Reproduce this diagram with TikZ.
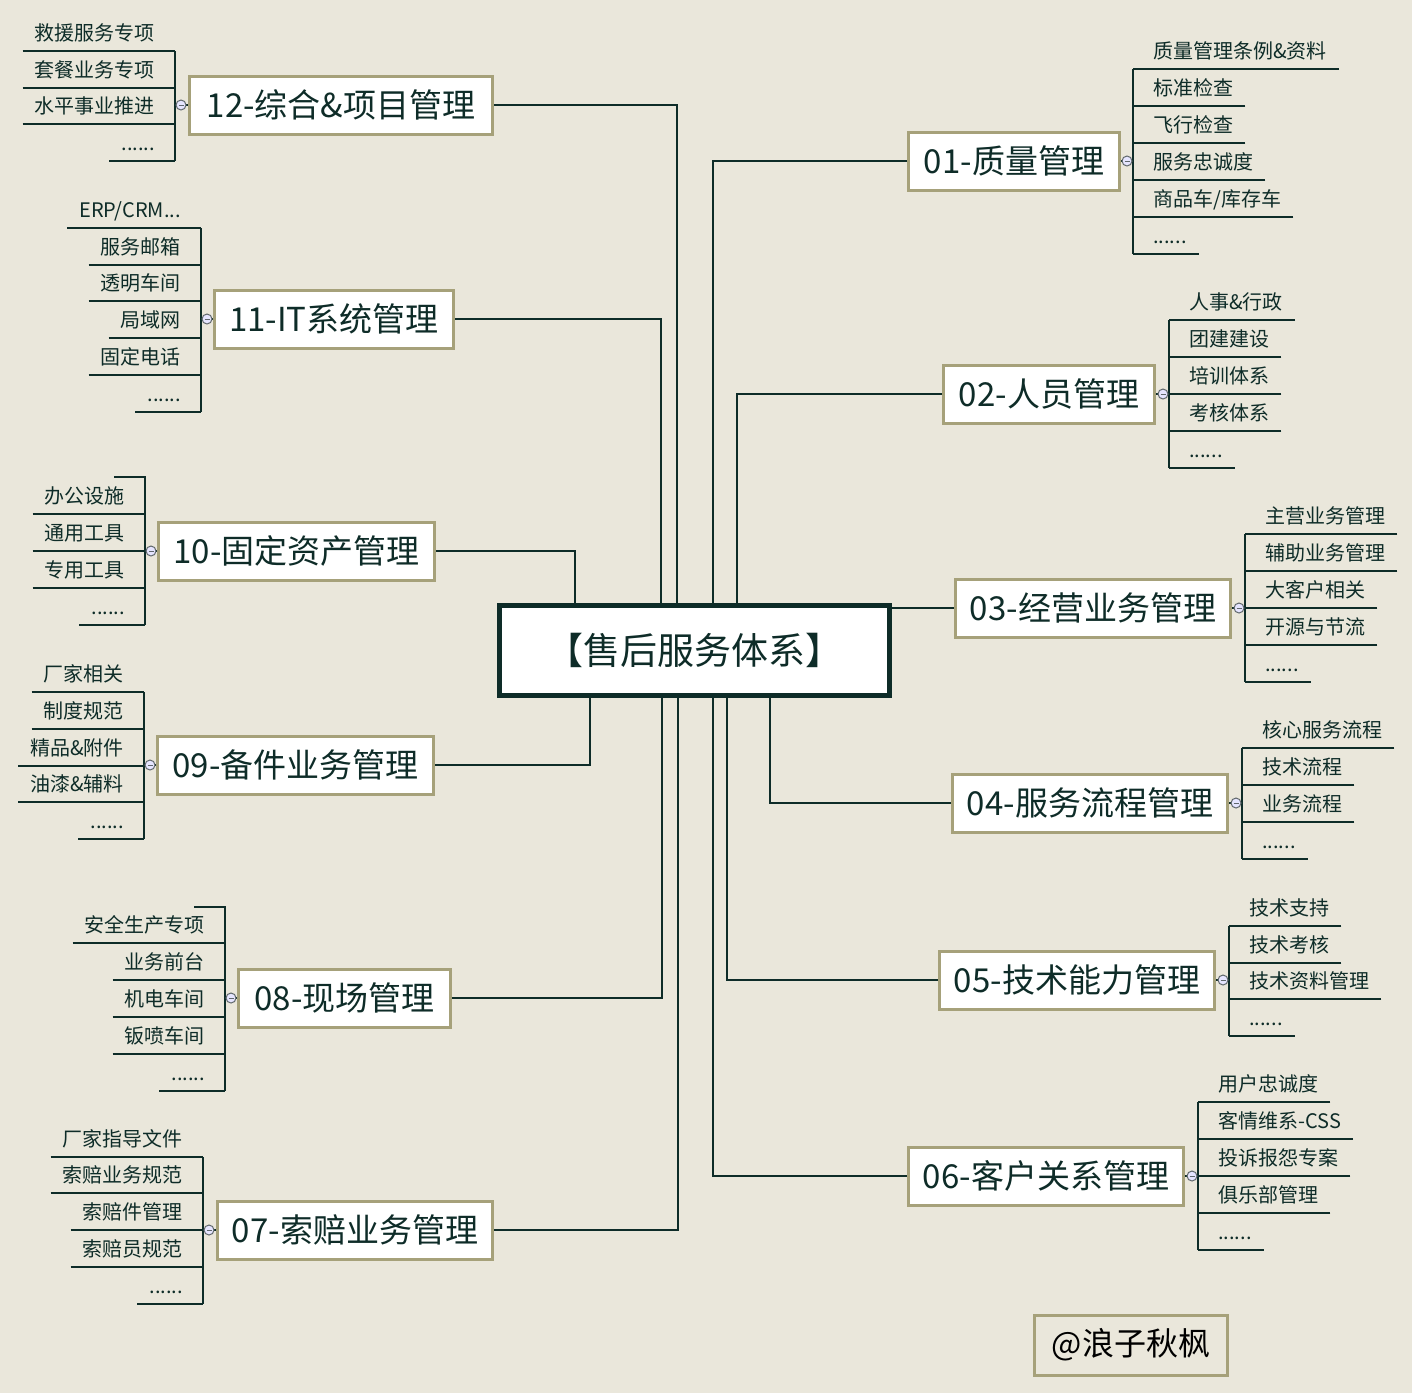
\documentclass[tikz,border=0pt]{standalone}
\usepackage{fontspec}
\newfontfamily\cjk{Noto Sans CJK SC}
\definecolor{paper}{RGB}{234,231,219}
\definecolor{ink}{RGB}{14,44,40}
\definecolor{olive}{RGB}{166,161,122}
\definecolor{foldgray}{RGB}{96,104,108}
\newcommand{\threedots}{...}
\newcommand{\moreitems}{\threedots\threedots}

\begin{document}
\begin{tikzpicture}[x=1pt, y=-1pt,
        hub/.style={draw=ink, line width=5pt, fill=white, minimum width=390pt, minimum height=90pt, text=ink, font=\cjk\fontsize{37}{42}\selectfont},
        topic/.style={draw=olive, line width=3pt, fill=white, minimum height=58pt, text=ink, font=\cjk\fontsize{33}{38}\selectfont},
        leafL/.style={anchor=south east, inner xsep=12pt, inner ysep=10pt, text height=15pt, text depth=0pt, text=ink, font=\cjk\fontsize{20}{24}\selectfont},
        leafR/.style={leafL, anchor=south west},
        link/.style={draw=ink, line width=2pt},
        twig/.style={draw=ink, line width=1.3pt},
        fold/.style={circle, draw=foldgray, fill=white!90!blue, line width=1pt, minimum size=10pt, inner sep=0pt,
            path picture={\draw[foldgray, line width=.9pt] ([xshift=-2.5pt]path picture bounding box.center) -- ([xshift=2.5pt]path picture bounding box.center);}}]
        \useasboundingbox (0,0) rectangle (1412,1393);
        \fill[paper] (0,0) rectangle (1412,1393);

        \node[hub] (hub) at (694.5,650.5) {【售后服务体系】};

        \node[topic, minimum width=303pt] (b12) at (341,105) {12-综合\&项目管理};
        \node[topic, minimum width=239pt] (b11) at (334,319) {11-IT系统管理};
        \node[topic, minimum width=276pt] (b10) at (296.5,551) {10-固定资产管理};
        \node[topic, minimum width=276pt] (b09) at (295.5,765) {09-备件业务管理};
        \node[topic, minimum width=212pt] (b08) at (344.5,998) {08-现场管理};
        \node[topic, minimum width=275pt] (b07) at (355,1230) {07-索赔业务管理};
        \node[topic, minimum width=211pt] (b01) at (1014,161) {01-质量管理};
        \node[topic, minimum width=211pt] (b02) at (1049,394) {02-人员管理};
        \node[topic, minimum width=275pt] (b03) at (1093,608) {03-经营业务管理};
        \node[topic, minimum width=275pt] (b04) at (1090,803) {04-服务流程管理};
        \node[topic, minimum width=275pt] (b05) at (1077,980) {05-技术能力管理};
        \node[topic, minimum width=275pt] (b06) at (1046,1176) {06-客户关系管理};

        \node[draw=olive, line width=3pt, minimum width=193pt, minimum height=60pt, font=\cjk\fontsize{32}{37}\selectfont] (sign) at (1131,1345) {@浪子秋枫};

        \begin{scope}[link]
            \draw (b12.east) -| ([xshift=180pt]hub.north west);
            \draw (b11.east) -| ([xshift=164pt]hub.north west);
            \draw (b10.east) -| ([xshift=78pt]hub.north west);
            \draw (b01.west) -| ([xshift=216pt]hub.north west);
            \draw (b02.west) -| ([xshift=240pt]hub.north west);
            \draw (b03.west -| hub.east) -- (b03.west);
            \draw (b09.east) -| ([xshift=93pt]hub.south west);
            \draw (b08.east) -| ([xshift=165pt]hub.south west);
            \draw (b07.east) -| ([xshift=181pt]hub.south west);
            \draw (b06.west) -| ([xshift=216pt]hub.south west);
            \draw (b05.west) -| ([xshift=230pt]hub.south west);
            \draw (b04.west) -| ([xshift=273pt]hub.south west);
        \end{scope}

        \coordinate (k12) at (175,105);
        \foreach \t/\y [count=\i] in {救援服务专项/51,套餐业务专项/88,水平事业推进/124,\moreitems/161} {
            \node[leafL] (g12-\i) at (167,\y) {\t};
            \draw[twig] (g12-\i.south west) -- (g12-\i.south west -| k12);
        }
        \draw[twig] (g12-1.south west -| k12) -- (g12-4.south west -| k12);
        \draw[twig] (b12.west) -- (k12);
        \node[fold] (f12) at ([xshift=6pt]k12) {};

        \coordinate (k11) at (201,319);
        \foreach \t/\y [count=\i] in {{ERP/CRM\threedots}/228,服务邮箱/265,透明车间/301,局域网/338,固定电话/375,\moreitems/412} {
            \node[leafL] (g11-\i) at (193,\y) {\t};
            \draw[twig] (g11-\i.south west) -- (g11-\i.south west -| k11);
        }
        \draw[twig] (g11-1.south west -| k11) -- (g11-6.south west -| k11);
        \draw[twig] (b11.west) -- (k11);
        \node[fold] (f11) at ([xshift=6pt]k11) {};

        \coordinate (k10) at (145,551);
        \coordinate (t10) at (114,477);
        \foreach \t/\y [count=\i] in {办公设施/514,通用工具/551,专用工具/588,\moreitems/625} {
            \node[leafL] (g10-\i) at (137,\y) {\t};
            \draw[twig] (g10-\i.south west) -- (g10-\i.south west -| k10);
        }
        \draw[twig] (t10) -- (t10 -| k10) -- (g10-4.south west -| k10);
        \draw[twig] (b10.west) -- (k10);
        \node[fold] (f10) at ([xshift=6pt]k10) {};

        \coordinate (k09) at (144,765);
        \foreach \t/\y [count=\i] in {厂家相关/692,制度规范/729,精品\&附件/766,油漆\&辅料/802,\moreitems/839} {
            \node[leafL] (g09-\i) at (136,\y) {\t};
            \draw[twig] (g09-\i.south west) -- (g09-\i.south west -| k09);
        }
        \draw[twig] (g09-1.south west -| k09) -- (g09-5.south west -| k09);
        \draw[twig] (b09.west) -- (k09);
        \node[fold] (f09) at ([xshift=6pt]k09) {};

        \coordinate (k08) at (225,998);
        \coordinate (t08) at (194,907);
        \foreach \t/\y [count=\i] in {安全生产专项/943,业务前台/980,机电车间/1017,钣喷车间/1054,\moreitems/1091} {
            \node[leafL] (g08-\i) at (217,\y) {\t};
            \draw[twig] (g08-\i.south west) -- (g08-\i.south west -| k08);
        }
        \draw[twig] (t08) -- (t08 -| k08) -- (g08-5.south west -| k08);
        \draw[twig] (b08.west) -- (k08);
        \node[fold] (f08) at ([xshift=6pt]k08) {};

        \coordinate (k07) at (203,1230);
        \foreach \t/\y [count=\i] in {厂家指导文件/1157,索赔业务规范/1193,索赔件管理/1230,索赔员规范/1267,\moreitems/1304} {
            \node[leafL] (g07-\i) at (195,\y) {\t};
            \draw[twig] (g07-\i.south west) -- (g07-\i.south west -| k07);
        }
        \draw[twig] (g07-1.south west -| k07) -- (g07-5.south west -| k07);
        \draw[twig] (b07.west) -- (k07);
        \node[fold] (f07) at ([xshift=6pt]k07) {};

        \coordinate (k01) at (1133,161);
        \foreach \t/\y [count=\i] in {质量管理条例\&资料/69,标准检查/106,飞行检查/143,服务忠诚度/180,{商品车/库存车}/217,\moreitems/254} {
            \node[leafR] (g01-\i) at (1141,\y) {\t};
            \draw[twig] (g01-\i.south east) -- (g01-\i.south east -| k01);
        }
        \draw[twig] (g01-1.south east -| k01) -- (g01-6.south east -| k01);
        \draw[twig] (b01.east) -- (k01);
        \node[fold] (f01) at ([xshift=-6pt]k01) {};

        \coordinate (k02) at (1169,394);
        \foreach \t/\y [count=\i] in {人事\&行政/320,团建建设/357,培训体系/394,考核体系/431,\moreitems/468} {
            \node[leafR] (g02-\i) at (1177,\y) {\t};
            \draw[twig] (g02-\i.south east) -- (g02-\i.south east -| k02);
        }
        \draw[twig] (g02-1.south east -| k02) -- (g02-5.south east -| k02);
        \draw[twig] (b02.east) -- (k02);
        \node[fold] (f02) at ([xshift=-6pt]k02) {};

        \coordinate (k03) at (1245,608);
        \foreach \t/\y [count=\i] in {主营业务管理/534,辅助业务管理/571,大客户相关/608,开源与节流/645,\moreitems/682} {
            \node[leafR] (g03-\i) at (1253,\y) {\t};
            \draw[twig] (g03-\i.south east) -- (g03-\i.south east -| k03);
        }
        \draw[twig] (g03-1.south east -| k03) -- (g03-5.south east -| k03);
        \draw[twig] (b03.east) -- (k03);
        \node[fold] (f03) at ([xshift=-6pt]k03) {};

        \coordinate (k04) at (1242,803);
        \foreach \t/\y [count=\i] in {核心服务流程/748,技术流程/785,业务流程/822,\moreitems/859} {
            \node[leafR] (g04-\i) at (1250,\y) {\t};
            \draw[twig] (g04-\i.south east) -- (g04-\i.south east -| k04);
        }
        \draw[twig] (g04-1.south east -| k04) -- (g04-4.south east -| k04);
        \draw[twig] (b04.east) -- (k04);
        \node[fold] (f04) at ([xshift=-6pt]k04) {};

        \coordinate (k05) at (1229,980);
        \foreach \t/\y [count=\i] in {技术支持/926,技术考核/963,技术资料管理/999,\moreitems/1036} {
            \node[leafR] (g05-\i) at (1237,\y) {\t};
            \draw[twig] (g05-\i.south east) -- (g05-\i.south east -| k05);
        }
        \draw[twig] (g05-1.south east -| k05) -- (g05-4.south east -| k05);
        \draw[twig] (b05.east) -- (k05);
        \node[fold] (f05) at ([xshift=-6pt]k05) {};

        \coordinate (k06) at (1198,1176);
        \foreach \t/\y [count=\i] in {用户忠诚度/1102,客情维系-CSS/1139,投诉报怨专案/1176,俱乐部管理/1213,\moreitems/1250} {
            \node[leafR] (g06-\i) at (1206,\y) {\t};
            \draw[twig] (g06-\i.south east) -- (g06-\i.south east -| k06);
        }
        \draw[twig] (g06-1.south east -| k06) -- (g06-5.south east -| k06);
        \draw[twig] (b06.east) -- (k06);
        \node[fold] (f06) at ([xshift=-6pt]k06) {};
    \end{tikzpicture}
\end{document}
